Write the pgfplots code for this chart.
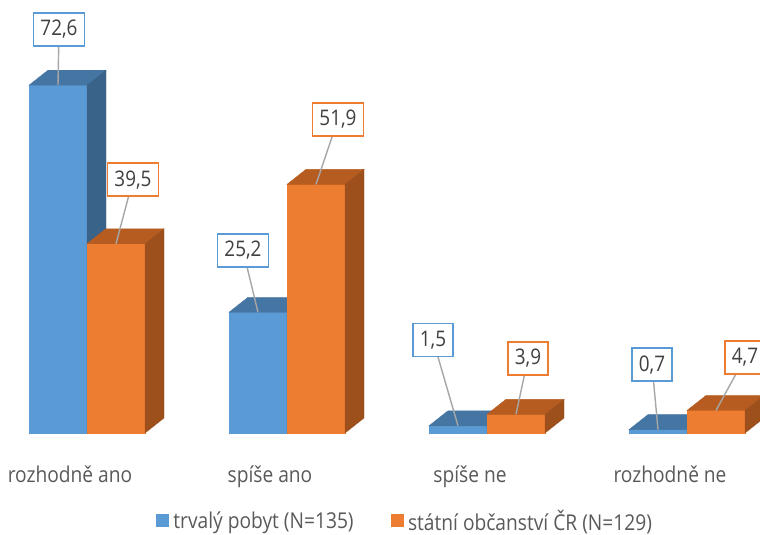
\documentclass[border=0pt]{standalone}
\usepackage{pgfplots}
\pgfplotsset{compat=1.18}
\usepackage{pgfplotstable}
\usepackage{fontspec}
\setmainfont{Open Sans}[FakeStretch=0.88]
\definecolor{bf}{RGB}{91,155,213}
\definecolor{bt}{RGB}{69,117,162}
\definecolor{bs}{RGB}{58,99,138}
\definecolor{of}{RGB}{237,125,49}
\definecolor{ot}{RGB}{183,92,32}
\definecolor{os}{RGB}{158,80,28}
\definecolor{linegray}{RGB}{166,166,166}
\definecolor{labgray}{RGB}{64,64,64}
\definecolor{txtgray}{RGB}{89,89,89}
\pgfkeys{/pgf/number format/assume math mode=true}
\pgfdeclareplotmark{none3d}{}

\pgfplotstableread{
x v lx ly
-0.145 72.6 1 56
0.855 25.2 -15 62
1.855 1.5 -25 86
2.855 0.7 -6 65
}\tblblue
\pgfplotstableread{
x v lx ly
0.145 39.5 17 64
1.145 51.9 22 65
2.145 3.9 12 56
3.145 4.7 29 53
}\tblorange

\pgfplotsset{bar3d/.style n args={4}{
  scatter, only marks, mark=none3d, forget plot,
  visualization depends on={\thisrow{v} \as \val},
  visualization depends on={\thisrow{lx} \as \lx},
  visualization depends on={\thisrow{ly} \as \ly},
  scatter/@pre marker code/.code={
    \fill[#1] (-29pt,{-\val*4.79pt}) rectangle (29pt,0pt);
    \fill[#2] (-29pt,0pt) -- (29pt,0pt) -- (48pt,15pt) -- (-10pt,15pt) -- cycle;
    \fill[#3] (29pt,0pt) -- (48pt,15pt) -- (48pt,{15pt-\val*4.79pt}) -- (29pt,{-\val*4.79pt}) -- cycle;
    \draw[linegray, line width=1.4pt] (0pt,0pt) -- (\lx pt,\ly pt);
    \node[draw=#4, line width=1.6pt, fill=white, text=labgray, inner xsep=7pt, inner ysep=0pt, minimum height=33pt, font=\fontsize{21.5}{25}\selectfont] at (\lx pt,\ly pt) {\pgfmathprintnumber[fixed,precision=1,fixed zerofill,use comma]{\val}};
  },
  scatter/@post marker code/.code={},
}}

\begin{document}
\begin{tikzpicture}
\useasboundingbox (0pt,0pt) rectangle (760pt,535pt);
\begin{axis}[
  at={(87pt,102pt)}, anchor=origin,
  x=200pt, y=4.79pt,
  xmin=-0.5, xmax=3.5, ymin=0, ymax=80,
  clip=false,
  axis line style={draw=none},
  tick style={draw=none},
  ytick=\empty,
  xtick={0,1,2,3},
  xticklabels={rozhodně ano, spíše ano, spíše ne, rozhodně ne},
  xticklabel style={anchor=base, yshift=-49pt, xshift=-17pt, font=\fontsize{21.8}{25}\selectfont, text=txtgray},
  legend style={at={(axis cs:1.59,-18.3)}, anchor=center, draw=none, fill=none,
    font=\fontsize{21.8}{25}\selectfont, text=txtgray,
    /tikz/every even column/.append style={column sep=35pt}},
  legend columns=2,
]
\addplot[bar3d={bf}{bt}{bs}{bf}] table[x=x, y=v] {\tblblue};
\addplot[bar3d={of}{ot}{os}{of}] table[x=x, y=v] {\tblorange};
\addlegendimage{legend image code/.code={\fill[bf] (0pt,-6pt) rectangle (12pt,6pt); \path (15pt,0pt);}}
\addlegendentry{trvalý pobyt (N=135)}
\addlegendimage{legend image code/.code={\fill[of] (0pt,-6pt) rectangle (12pt,6pt); \path (15pt,0pt);}}
\addlegendentry{státní občanství ČR (N=129)}
\end{axis}
\end{tikzpicture}
\end{document}
